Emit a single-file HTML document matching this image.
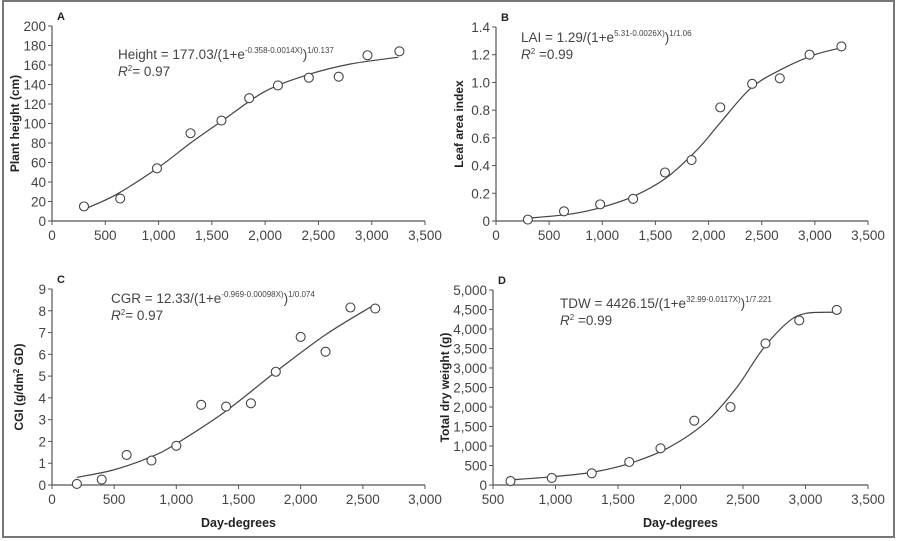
<!DOCTYPE html>
<html><head><meta charset="utf-8"><style>
html,body{margin:0;padding:0;background:#fff;}
svg{display:block;font-family:"Liberation Sans Narrow","Liberation Sans",sans-serif;}
</style></head><body>
<svg id="fig" width="899" height="541" viewBox="0 0 899 541" xmlns="http://www.w3.org/2000/svg">
<rect x="3" y="1" width="891" height="536" fill="#fff" stroke="#777" stroke-width="2"/>
</svg>
<script>
// Panel A
const aPtsX=[300,640,985,1300,1590,1850,2120,2410,2690,2960,3260];
const aPtsY=[15,23,54,90,103,126,139,147,148,170,174];
const aFitX=[300,600,1000,1300,1600,2000,2400,2800,3250];
const aFitY=[12,27,55,80,103,133,150,161,168];
const aTicksX=["0","500","1,000","1,500","2,000","2,500","3,000","3,500"];
const aTicksY=["0","20","40","60","80","100","120","140","160","180","200"];
// Panel B
const bPtsX=[300,640,980,1290,1590,1840,2110,2410,2670,2950,3250];
const bPtsY=[0.01,0.07,0.12,0.16,0.35,0.44,0.82,0.99,1.03,1.2,1.26];
const bFitX=[300,700,1000,1300,1600,1900,2100,2400,2700,3000,3250];
const bFitY=[0.02,0.05,0.1,0.18,0.31,0.52,0.7,0.96,1.1,1.2,1.25];
const bTicksX=["0","500","1,000","1,500","2,000","2,500","3,000","3,500"];
const bTicksY=["0","0.2","0.4","0.6","0.8","1.0","1.2","1.4"];
// Panel C
const cPtsX=[200,400,600,800,1000,1200,1400,1600,1800,2000,2200,2400,2600];
const cPtsY=[0.05,0.25,1.38,1.12,1.8,3.68,3.6,3.75,5.2,6.8,6.12,8.15,8.1];
const cFitX=[200,500,800,1000,1400,1800,2200,2600];
const cFitY=[0.35,0.7,1.3,1.9,3.4,5.2,6.9,8.3];
const cTicksX=["0","500","1,000","1,500","2,000","2,500","3,000"];
const cTicksY=["0","1","2","3","4","5","6","7","8","9"];
// Panel D
const dPtsX=[640,970,1290,1590,1840,2110,2400,2680,2950,3250];
const dPtsY=[100,180,300,590,940,1650,2000,3630,4220,4490];
const dFitX=[640,1000,1300,1600,1900,2200,2450,2650,2850,3000,3250];
const dFitY=[130,220,330,560,950,1600,2500,3450,4150,4400,4430];
const dTicksX=["500","1,000","1,500","2,000","2,500","3,000","3,500"];
const dTicksY=["0","500","1,000","1,500","2,000","2,500","3,000","3,500","4,000","4,500","5,000"];

const NS="http://www.w3.org/2000/svg";
const svg=document.getElementById('fig');
function mk(tag,attrs,parent,txt){const e=document.createElementNS(NS,tag);for(const k in attrs)e.setAttribute(k,attrs[k]);if(txt!==undefined)e.textContent=txt;(parent||svg).appendChild(e);return e;}
function num(s){return parseFloat(s.replace(/,/g,''));}

function panel(o){
  const g=mk('g',{});
  
  
  const x0=num(o.tx[0]),x1=num(o.tx[o.tx.length-1]),y0=num(o.ty[0]),y1=num(o.ty[o.ty.length-1]);
  const sx=v=>o.L+(v-x0)/(x1-x0)*(o.R-o.L);
  const sy=v=>o.B-(v-y0)/(y1-y0)*(o.B-o.T);
  const ax=mk('path',{d:`M${o.L},${o.T}V${o.B}H${o.R}`,fill:'none',stroke:'#555','stroke-width':1.2},g);
  
  o.tx.forEach(t=>{const x=sx(num(t));mk('line',{x1:x,x2:x,y1:o.B,y2:o.B+4,stroke:'#555'},g);
    const tl=mk('text',{x:x,y:o.B+19,'text-anchor':'middle','font-size':13.5,fill:'#444'},g,t);
    });
  o.ty.forEach(t=>{const y=sy(num(t));mk('line',{x1:o.L-4,x2:o.L,y1:y,y2:y,stroke:'#555'},g);
    const tl=mk('text',{x:o.L-6,y:y+5,'text-anchor':'end','font-size':13.5,fill:'#444'},g,t);
    });
  const yt=mk('text',{transform:`translate(${o.yl},${(o.T+o.B)/2}) rotate(-90)`,'text-anchor':'middle','font-size':12,'font-weight':'bold',fill:'#222'},g);
  yt.innerHTML=o.ytitle;
  
  if(o.xtitle){const xt=mk('text',{x:(o.L+o.R)/2,y:o.B+42,'text-anchor':'middle','font-size':12.5,'font-weight':'bold',fill:'#222'},g,o.xtitle);
    }
  const lab=mk('text',{x:o.L+5,y:o.T-6,'font-size':11,'font-weight':'bold',fill:'#222'},g,o.id);
  
  const eq=mk('text',{x:o.ex,y:o.ey,'font-size':13.5,fill:'#444'},g);
  eq.innerHTML=o.eq;
  
  const r2=mk('text',{x:o.ex,y:o.ey+17,'font-size':13.5,fill:'#444'},g);
  r2.innerHTML=o.r2;
  
  // fit curve (catmull-rom)
  const P=o.fx.map((x,i)=>[sx(x),sy(o.fy[i])]);
  let d=`M${P[0][0]},${P[0][1]}`;
  for(let i=0;i<P.length-1;i++){const p0=P[Math.max(0,i-1)],p1=P[i],p2=P[i+1],p3=P[Math.min(P.length-1,i+2)];
    d+=`C${p1[0]+(p2[0]-p0[0])/6},${p1[1]+(p2[1]-p0[1])/6} ${p2[0]-(p3[0]-p1[0])/6},${p2[1]-(p3[1]-p1[1])/6} ${p2[0]},${p2[1]}`;}
  const cv=mk('path',{d:d,fill:'none',stroke:'#444','stroke-width':1.2},g);
  
  o.px.forEach((x,i)=>{const c=mk('circle',{cx:sx(x),cy:sy(o.py[i]),r:4.5,fill:'#fff',stroke:'#444','stroke-width':1.1},g);
    });
}
const sup=(s)=>`<tspan dy="-6" font-size="8">${s}</tspan><tspan dy="6">`;
panel({id:'A',L:52,R:425,T:26,B:221,tx:aTicksX,ty:aTicksY,px:aPtsX,py:aPtsY,fx:aFitX,fy:aFitY,yl:19,
  ytitle:'Plant  height  (cm)',ex:118,ey:59,
  eq:'Height = 177.03/(1+e'+sup('-0.358-0.0014X)')+')</tspan>'+'<tspan dy="-6" font-size="8">1/0.137</tspan>',
  r2:'<tspan font-style="italic">R</tspan><tspan dy="-5" font-size="8">2</tspan><tspan dy="5">= 0.97</tspan>'});
panel({id:'B',L:496,R:868,T:27,B:221,tx:bTicksX,ty:bTicksY,px:bPtsX,py:bPtsY,fx:bFitX,fy:bFitY,yl:463,
  ytitle:'Leaf area index',ex:521,ey:42,
  eq:'LAI = 1.29/(1+e'+sup('5.31-0.0026X)')+')</tspan><tspan dy="-6" font-size="8">1/1.06</tspan>',
  r2:'<tspan font-style="italic">R</tspan><tspan dy="-5" font-size="8">2</tspan><tspan dy="5"> =0.99</tspan>'});
panel({id:'C',L:52,R:425,T:289,B:485,tx:cTicksX,ty:cTicksY,px:cPtsX,py:cPtsY,fx:cFitX,fy:cFitY,yl:23,
  ytitle:'CGI  (g/dm<tspan dy="-4" font-size="8">2</tspan><tspan dy="4"> GD)</tspan>',xtitle:'Day-degrees',ex:111,ey:303,
  eq:'CGR = 12.33/(1+e'+sup('-0.969-0.00098X)')+')</tspan><tspan dy="-6" font-size="8">1/0.074</tspan>',
  r2:'<tspan font-style="italic">R</tspan><tspan dy="-5" font-size="8">2</tspan><tspan dy="5">= 0.97</tspan>'});
panel({id:'D',L:493,R:868,T:290,B:485,tx:dTicksX,ty:dTicksY,px:dPtsX,py:dPtsY,fx:dFitX,fy:dFitY,yl:449,
  ytitle:'Total dry weight  (g)',xtitle:'Day-degrees',ex:560,ey:308,
  eq:'TDW = 4426.15/(1+e'+sup('32.99-0.0117X)')+')</tspan><tspan dy="-6" font-size="8">1/7.221</tspan>',
  r2:'<tspan font-style="italic">R</tspan><tspan dy="-5" font-size="8">2</tspan><tspan dy="5"> =0.99</tspan>'});
</script>
</body></html>
